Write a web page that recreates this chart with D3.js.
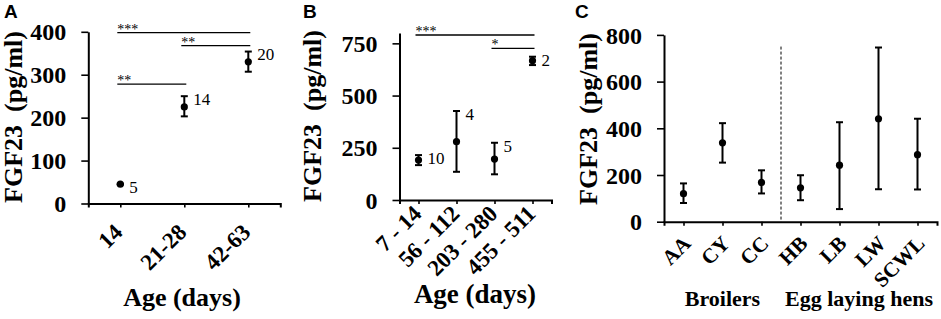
<!DOCTYPE html>
<html>
<head>
<meta charset="utf-8">
<script src="https://cdn.jsdelivr.net/npm/d3@7"></script>
<style>
    body { margin: 0; background: #fff; }
    svg text { font-family: "Liberation Serif", "Times New Roman", serif; fill: #000; }
    svg text.bold { font-weight: bold; }
    svg text.letter { font-family: "Liberation Sans", Arial, sans-serif; font-weight: bold; font-size: 19px; }
</style>
</head>
<body>
<svg id="mainFrame"></svg>
<script>
// panel A: age groups
const ageA = ['14', '21-28', '42-63']
const meanA = [45, 225, 330]
const lowA = [44, 203, 307]
const highA = [46, 250, 354]
const nA = [5, 14, 20]
const sigFromA = [0, 1, 0]
const sigToA = [2, 2, 1]
const sigLevelA = [398, 368, 278]
const sigStarsA = ['***', '**', '**']
const yTicksA = [0, 100, 200, 300, 400]

// panel B: age groups of layers
const ageB = ['7 - 14', '56 - 112', '203 - 280', '455 - 511']
const meanB = [191, 279, 196, 667]
const lowB = [167, 135, 123, 646]
const highB = [215, 426, 274, 686]
const nB = [10, 4, 5, 2]
const sigFromB = [0, 2]
const sigToB = [3, 3]
const sigLevelB = [790, 726]
const sigStarsB = ['***', '*']
const yTicksB = [0, 250, 500, 750]

// panel C: breeds
const breeds = ['AA', 'CY', 'CC', 'HB', 'LB', 'LW', 'SCWL']
const meanC = [120, 338, 168, 145, 242, 441, 287]
const lowC = [80, 253, 121, 92, 54, 139, 138]
const highC = [164, 422, 220, 199, 426, 746, 441]
const groupNames = ['Broilers', 'Egg laying hens']
const groupFirst = [0, 3]
const groupLast = [2, 6]
const yTicksC = [0, 200, 400, 600, 800]

const serif = '"Liberation Serif", "Times New Roman", serif'

const svg = d3.select('#mainFrame')
    .attr('width', 941)
    .attr('height', 319)

const drawPanel = (p) => {
    const g = svg.append('g')

    const x = d3.scalePoint()
        .domain(p.cats)
        .range([p.left, p.right])
        .padding(0.5)
    const y = d3.scaleLinear()
        .domain([0, p.yMax])
        .range([p.bottom, p.top])

    // y axis
    const yAxis = g.append('g')
        .attr('transform', `translate(${p.left},0)`)
        .call(d3.axisLeft(y).tickValues(p.yTicks).tickSize(7).tickPadding(15).tickSizeOuter(0))
        .attr('font-family', serif)
        .attr('font-size', 24)
        .attr('font-weight', 'bold')
    yAxis.selectAll('text')
        .attr('class', 'bold')
        .attr('dy', '0.34em')

    // x axis
    const xAxis = g.append('g')
        .attr('transform', `translate(0,${p.bottom})`)
        .call(d3.axisBottom(x).tickSize(4).tickSizeOuter(4))
        .attr('font-family', serif)
        .attr('font-size', p.xTickFont)
        .attr('font-weight', 'bold')
    xAxis.selectAll('text')
        .attr('class', 'bold')
        .attr('text-anchor', 'end')
        .attr('x', 0).attr('y', 0).attr('dy', 0)
        .attr('transform', `translate(${p.labelDx},${p.labelDy}) rotate(-45)`)

    g.selectAll('.domain').attr('stroke-width', 2)
    g.selectAll('.tick line').attr('stroke-width', 1.6)

    // y title
    g.append('text')
        .attr('class', 'bold')
        .attr('text-anchor', 'middle')
        .style('font-size', '26px')
        .style('white-space', 'pre')
        .attr('transform', `translate(${p.yTitleX},${p.yTitleY}) rotate(-90)`)
        .text('FGF23  (pg/ml)')

    // panel letter
    g.append('text')
        .attr('class', 'letter')
        .attr('x', p.letterX)
        .attr('y', 18)
        .text(p.letter)

    // error bars
    const bars = g.selectAll('g.bar')
        .data(p.cats)
        .join('g')
        .attr('class', 'bar')
    bars.append('line')
        .attr('x1', d => x(d)).attr('x2', d => x(d))
        .attr('y1', (d, i) => y(p.low[i])).attr('y2', (d, i) => y(p.high[i]))
        .attr('stroke', '#000').attr('stroke-width', 2)
    bars.append('line')
        .attr('x1', d => x(d) - 3.5).attr('x2', d => x(d) + 3.5)
        .attr('y1', (d, i) => y(p.low[i])).attr('y2', (d, i) => y(p.low[i]))
        .attr('stroke', '#000').attr('stroke-width', 2)
    bars.append('line')
        .attr('x1', d => x(d) - 3.5).attr('x2', d => x(d) + 3.5)
        .attr('y1', (d, i) => y(p.high[i])).attr('y2', (d, i) => y(p.high[i]))
        .attr('stroke', '#000').attr('stroke-width', 2)
    bars.append('circle')
        .attr('cx', d => x(d))
        .attr('cy', (d, i) => y(p.mean[i]))
        .attr('r', 3.6)
        .attr('fill', '#000')

    // sample sizes
    if (p.n) {
        bars.append('text')
            .attr('x', d => x(d) + 9)
            .attr('y', (d, i) => y(p.high[i]) + 3)
            .attr('dy', '0.35em')
            .style('font-size', '17px')
            .text((d, i) => p.n[i])
    }

    // significance lines
    if (p.sigFrom) {
        p.sigFrom.forEach((f, i) => {
            const x1 = x(p.cats[f]) - 3
            const x2 = x(p.cats[p.sigTo[i]]) + 2
            const ly = y(p.sigLevel[i])
            g.append('line')
                .attr('x1', x1).attr('x2', x2)
                .attr('y1', ly).attr('y2', ly)
                .attr('stroke', '#000').attr('stroke-width', 1.3)
            g.append('text')
                .attr('x', x1)
                .attr('y', ly + 1)
                .style('font-size', '14px')
                .text(p.sigStars[i])
        })
    }

    return { x, y, g }
}

// A
const panelA = drawPanel({
    letter: 'A', letterX: 4,
    cats: ageA, mean: meanA, low: lowA, high: highA, n: nA,
    sigFrom: sigFromA, sigTo: sigToA, sigLevel: sigLevelA, sigStars: sigStarsA,
    yTicks: yTicksA, yMax: 400,
    left: 88.3, right: 280.3, top: 31.8, bottom: 203.5,
    xTickFont: 23, labelDx: 3, labelDy: 30, yTitleX: 22, yTitleY: 117
})
panelA.g.append('text')
    .attr('class', 'bold')
    .attr('x', 182).attr('y', 306)
    .attr('text-anchor', 'middle')
    .style('font-size', '26px')
    .text('Age (days)')

// B
const panelB = drawPanel({
    letter: 'B', letterX: 303,
    cats: ageB, mean: meanB, low: lowB, high: highB, n: nB,
    sigFrom: sigFromB, sigTo: sigToB, sigLevel: sigLevelB, sigStars: sigStarsB,
    yTicks: yTicksB, yMax: 800,
    left: 399.5, right: 551.5, top: 32.9, bottom: 200,
    xTickFont: 23, labelDx: 4, labelDy: 15, yTitleX: 321, yTitleY: 116
})
panelB.g.append('text')
    .attr('class', 'bold')
    .attr('x', 475).attr('y', 303)
    .attr('text-anchor', 'middle')
    .style('font-size', '27px')
    .text('Age (days)')

// C
const panelC = drawPanel({
    letter: 'C', letterX: 575,
    cats: breeds, mean: meanC, low: lowC, high: highC,
    yTicks: yTicksC, yMax: 800,
    left: 664, right: 937, top: 34.9, bottom: 221.7,
    xTickFont: 21, labelDx: 8, labelDy: 23, yTitleX: 597, yTitleY: 119
})

// divider between broilers and layers
const xC = panelC.x, yC = panelC.y
const divX = (xC(breeds[groupLast[0]]) + xC(breeds[groupFirst[1]])) / 2
panelC.g.append('line')
    .attr('x1', divX).attr('x2', divX)
    .attr('y1', yC(750)).attr('y2', yC(0))
    .attr('stroke', '#000').attr('stroke-width', 1)
    .attr('stroke-dasharray', '3,2')

panelC.g.selectAll('text.group')
    .data(groupNames)
    .join('text')
    .attr('class', 'group bold')
    .attr('x', (d, i) => (xC(breeds[groupFirst[i]]) + xC(breeds[groupLast[i]])) / 2)
    .attr('y', 306)
    .attr('text-anchor', 'middle')
    .style('font-size', '22px')
    .text(d => d)
</script>
</body>
</html>
